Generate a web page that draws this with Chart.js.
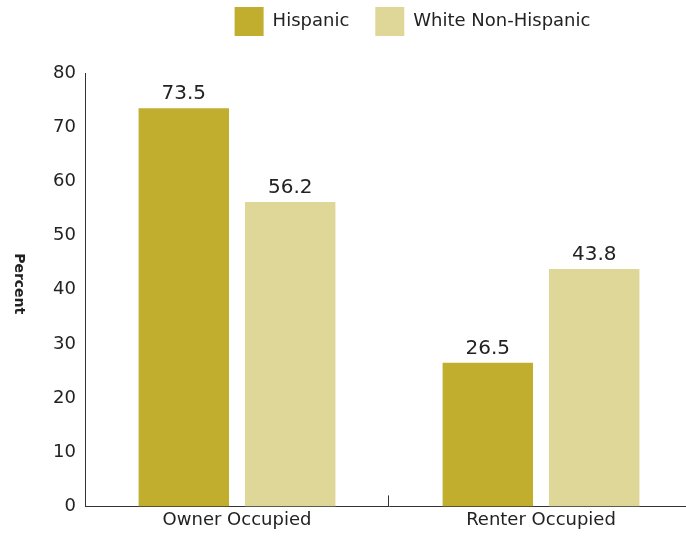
<!DOCTYPE html>
<html>
<head>
<meta charset="utf-8">
<script src="https://cdn.jsdelivr.net/npm/chart.js@4/dist/chart.umd.min.js"></script>
<style>
  html, body { margin: 0; padding: 0; background: #fff; overflow: hidden; }
  #wrap { width: 693px; height: 541px; }
</style>
</head>
<body>
<div id="wrap"><canvas id="chart" width="693" height="541"></canvas></div>
<script>
// Data
const categories = ['Owner Occupied', 'Renter Occupied'];
const seriesNames = ['Hispanic', 'White Non-Hispanic'];
const hispanic = [73.5, 26.5];
const whiteNonHispanic = [56.2, 43.8];
const yTicks = [0, 10, 20, 30, 40, 50, 60, 70, 80];

const FONT = 'DejaVu Sans';
const TEXT = '#222';
const AXIS = '#333';

// shift the legend into the spot it has in the reference
const legendShift = {
    id: 'legendShift',
    afterLayout: (chart, args, opts) => {
        const l = chart.legend;
        l.left += opts.dx; l.right += opts.dx;
        l.top += opts.dy; l.bottom += opts.dy;
    }
};

// value above each bar
const barValues = {
    id: 'barValues',
    afterDatasetsDraw: (chart) => {
        const ctx = chart.ctx;
        ctx.save();
        ctx.font = `20px "${FONT}"`;
        ctx.fillStyle = TEXT;
        ctx.textAlign = 'center';
        ctx.textBaseline = 'bottom';
        chart.data.datasets.forEach((ds, i) => {
            chart.getDatasetMeta(i).data.forEach((bar, j) => {
                ctx.fillText(ds.data[j].toFixed(1), bar.x, bar.y - 4);
            });
        });
        ctx.restore();
    }
};

// small tick between the two groups, and the y title read top to bottom
const extras = {
    id: 'extras',
    afterDraw: (chart) => {
        const { ctx, chartArea } = chart;
        const x = Math.round(chart.scales.x.getPixelForValue(0.5)) - 0.5;
        ctx.save();
        ctx.strokeStyle = AXIS;
        ctx.lineWidth = 1;
        ctx.beginPath();
        ctx.moveTo(x, chartArea.bottom - 11);
        ctx.lineTo(x, chartArea.bottom);
        ctx.stroke();

        ctx.translate(19, (chartArea.top + chartArea.bottom) / 2 - 6);
        ctx.rotate(Math.PI / 2);
        ctx.font = `bold 14px "${FONT}"`;
        ctx.fillStyle = TEXT;
        ctx.textAlign = 'center';
        ctx.textBaseline = 'middle';
        ctx.fillText('Percent', 0, 0);
        ctx.restore();
    }
};

new Chart(document.getElementById('chart'), {
    type: 'bar',
    data: {
        labels: categories,
        datasets: [
            { label: seriesNames[0], data: hispanic, backgroundColor: '#c1ae2f' },
            { label: seriesNames[1], data: whiteNonHispanic, backgroundColor: '#dfd797' }
        ]
    },
    options: {
        responsive: false,
        animation: false,
        layout: { padding: { top: 8, bottom: 7, left: 0, right: 0 } },
        datasets: {
            bar: { categoryPercentage: 0.70, barPercentage: 0.85 }
        },
        plugins: {
            legend: {
                position: 'top',
                labels: {
                    boxWidth: 29,
                    boxHeight: 29,
                    padding: 26,
                    color: TEXT,
                    font: { family: FONT, size: 18 }
                }
            },
            tooltip: { enabled: false },
            legendShift: { dx: 66, dy: -27 }
        },
        scales: {
            x: {
                grid: { display: false, drawTicks: false },
                border: { display: true, color: AXIS, width: 1 },
                ticks: { color: TEXT, padding: 3, font: { family: FONT, size: 18 } }
            },
            y: {
                min: 0,
                max: 80,
                afterFit: (scale) => { scale.width = 85; },
                afterBuildTicks: (scale) => { scale.ticks = yTicks.map(v => ({ value: v })); },
                grid: { display: false, drawTicks: false },
                border: { display: true, color: AXIS, width: 1 },
                ticks: { color: TEXT, padding: 9, font: { family: FONT, size: 18 } }
            }
        }
    },
    plugins: [legendShift, barValues, extras]
});
</script>
</body>
</html>
